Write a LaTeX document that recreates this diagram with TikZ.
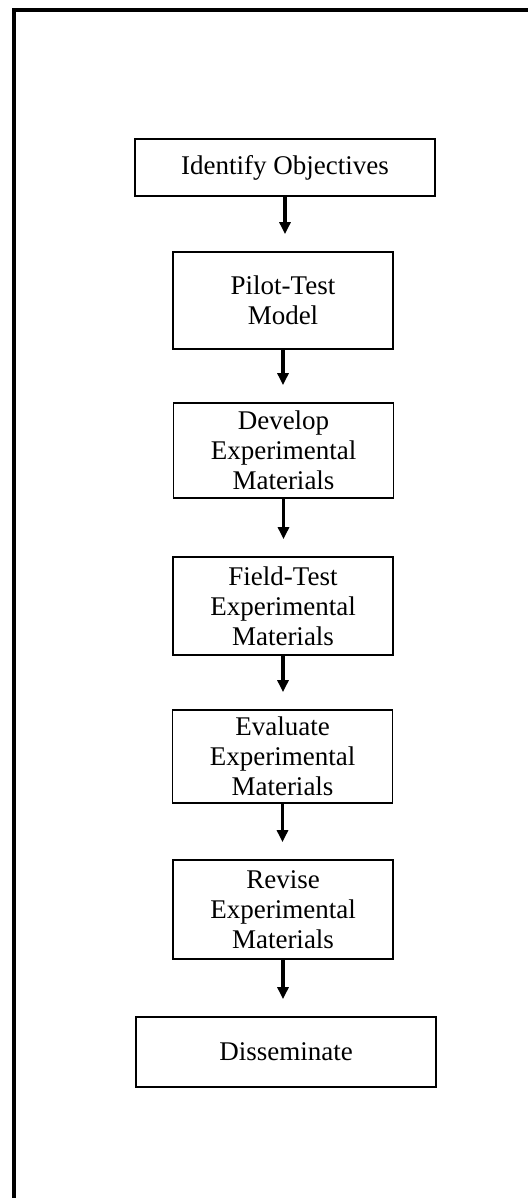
\documentclass[tikz,border=0pt]{standalone}
\usepackage{fontspec}
\setmainfont{Liberation Serif}
\usetikzlibrary{arrows.meta, positioning}

\begin{document}
\begin{tikzpicture}[
    x = 0.5pt, y = -0.5pt,
    stepbox/.style = {draw, line width = 0.9pt, align = center, inner sep = 0pt,
      font = \fontsize{13.5}{15}\selectfont},
    flowarrow/.style = {line width = 1.8pt, shorten > = 8.5pt,
      -{Triangle[length = 6pt, width = 5.5pt]}}
  ]
  \def\wideW{150pt}
  \def\narrowW{110pt}

  % ------------------------
  % page and frame
  % ------------------------
  \useasboundingbox (0, 0) rectangle (528, 1198);
  \draw[line width = 2pt] (14, 1198) -- (14, 10) -- (528, 10);

  % ------------------------
  % steps
  % ------------------------
  \node[stepbox, minimum width = \wideW,   minimum height = 28.5pt] (objectives) at (285, 167.5) {Identify Objectives};
  \node[stepbox, minimum width = \narrowW, minimum height = 48.5pt] (pilot)      at (283, 300.5) {Pilot-Test\\Model};
  \node[stepbox, minimum width = \narrowW, minimum height = 47.5pt] (develop)    at (283.5, 450.5) {Develop\\Experimental\\Materials};
  \node[stepbox, minimum width = \narrowW, minimum height = 49pt]   (field)      at (283, 606) {Field-Test\\Experimental\\Materials};
  \node[stepbox, minimum width = \narrowW, minimum height = 46.5pt] (evaluate)   at (282.5, 756.5) {Evaluate\\Experimental\\Materials};
  \node[stepbox, minimum width = \narrowW, minimum height = 49.5pt] (revise)     at (283, 909.5) {Revise\\Experimental\\Materials};
  \node[stepbox, minimum width = \wideW,   minimum height = 35pt]   (disseminate) at (286, 1052) {Disseminate};

  % ------------------------
  % arrows between steps
  % ------------------------
  \draw[flowarrow] (objectives.south) -- (objectives.south |- pilot.north);
  \draw[flowarrow] (pilot.south) -- (pilot.south |- develop.north);
  \draw[flowarrow] (develop.south) -- (develop.south |- field.north);
  \draw[flowarrow] (field.south) -- (field.south |- evaluate.north);
  \draw[flowarrow] (evaluate.south) -- (evaluate.south |- revise.north);
  \draw[flowarrow] (revise.south) -- (revise.south |- disseminate.north);
\end{tikzpicture}
\end{document}
